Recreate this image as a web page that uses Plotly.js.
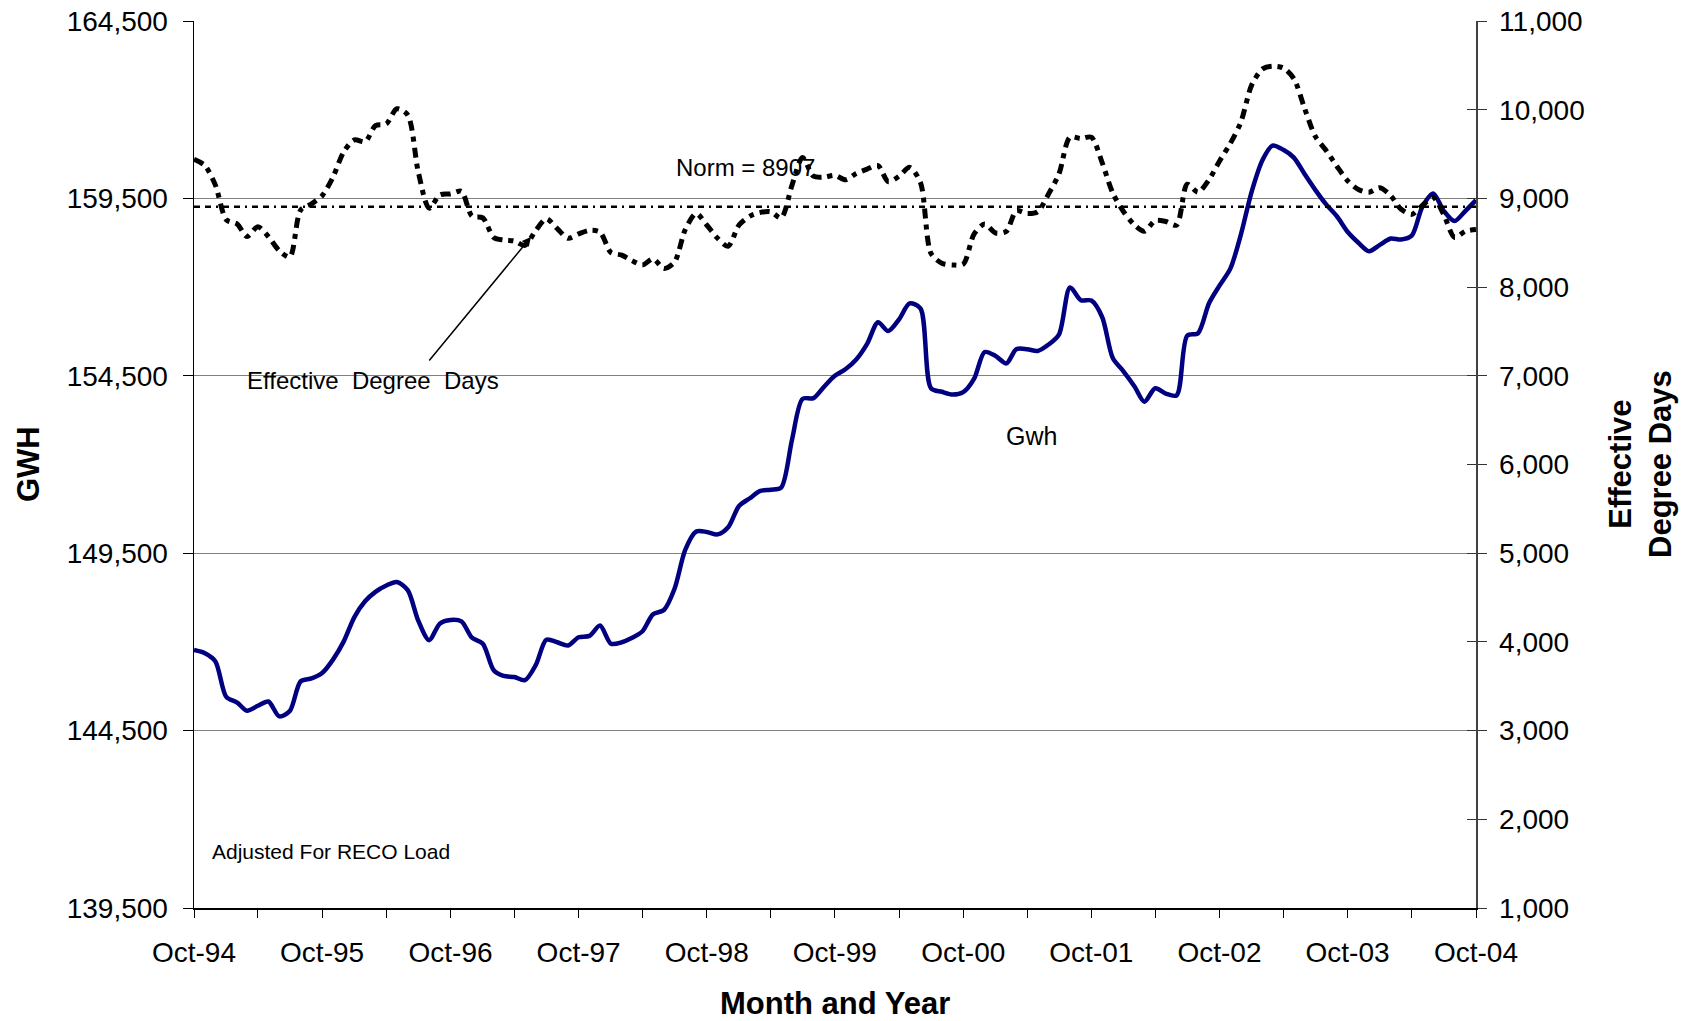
<!DOCTYPE html>
<html>
<head>
<meta charset="utf-8">
<script src="https://cdn.plot.ly/plotly-3.0.1.min.js"></script>
<style>
  html, body { margin: 0; padding: 0; background: #fff; }
  #chart { width: 1692px; height: 1021px; }
</style>
</head>
<body>
<div id="chart"></div>
<script>
// ---- Data (monthly, Oct-94 .. Oct-04) ----
const startYear = 1994, startMonth = 10, nMonths = 121;

const gwh = [
  146770, 146680, 146450, 145450, 145290, 145060, 145200, 145320, 144900, 145050,
  145890, 145970, 146120, 146500, 147000, 147700, 148150, 148410, 148590, 148690,
  148460, 147600, 147050, 147520, 147620, 147580, 147120, 146950, 146200, 146040,
  146010, 145920, 146350, 147060, 146990, 146900, 147130, 147170, 147460, 146950,
  146990, 147110, 147300, 147780, 147900, 148490, 149600, 150110, 150100, 150030,
  150230, 150830, 151050, 151250, 151290, 151350, 152700, 153850, 153870, 154200,
  154500, 154690, 154960, 155400, 156010, 155760, 156090, 156540, 156400, 154150,
  154050, 153970, 154040, 154420, 155170, 155060, 154850, 155250, 155250, 155200,
  155380, 155670, 156990, 156630, 156620, 156150, 155000, 154620, 154200, 153770,
  154150, 154000, 153950, 155630, 155700, 156540, 157040, 157520, 158480, 159700,
  160590, 160990, 160870, 160650, 160180, 159740, 159330, 158990, 158560, 158250,
  158010, 158190, 158370, 158340, 158450, 159260, 159640, 159150, 158860, 159150,
  159450
];

const edd = [
  9440, 9370, 9150, 8760, 8710, 8570, 8680, 8570, 8410, 8340,
  8870, 8940, 9030, 9240, 9520, 9660, 9640, 9820, 9840, 10010,
  9940, 9300, 8890, 9040, 9050, 9080, 8800, 8780, 8560, 8530,
  8520, 8470, 8640, 8770, 8660, 8550, 8600, 8640, 8620, 8390,
  8360, 8300, 8250, 8320, 8210, 8280, 8650, 8830, 8700, 8550,
  8460, 8700, 8800, 8840, 8850, 8780, 9150, 9460, 9250, 9240,
  9260, 9210, 9280, 9330, 9370, 9190, 9250, 9350, 9180, 8380,
  8270, 8250, 8260, 8600, 8710, 8610, 8630, 8860, 8830, 8850,
  9050, 9280, 9690, 9675, 9690, 9400, 9060, 8850, 8700, 8630,
  8750, 8740, 8700, 9160, 9070, 9210, 9420, 9620, 9860, 10280,
  10460, 10490, 10470, 10350, 10010, 9700, 9540, 9360, 9200, 9100,
  9070, 9120, 9030, 8880, 8820, 8920, 9010, 8820, 8560, 8630,
  8650
];

const NORM = 8907;

const tickLabels = ['Oct-94','Oct-95','Oct-96','Oct-97','Oct-98','Oct-99',
                    'Oct-00','Oct-01','Oct-02','Oct-03','Oct-04'];

// month categories as dates
function monthDate(i) {
  const m0 = startMonth - 1 + i;
  const y = startYear + Math.floor(m0 / 12);
  const mo = (m0 % 12) + 1;
  return y + '-' + String(mo).padStart(2, '0') + '-01';
}
const months = [];
for (let i = 0; i < nMonths; i++) months.push(monthDate(i));

// ticks every 6 months, labels every 12
const tickVals = [], tickText = [];
for (let i = 0; i < nMonths; i += 6) {
  tickVals.push(months[i]);
  tickText.push(i % 12 === 0 ? tickLabels[i / 12] : '');
}

const FONT = '"Liberation Sans", Arial, Helvetica, sans-serif';

const traces = [
  {
    x: months, y: gwh, yaxis: 'y', type: 'scatter', mode: 'lines',
    line: { color: '#000080', width: 4.5, shape: 'spline', smoothing: 0.8 },
    hoverinfo: 'skip'
  },
  {
    x: [months[0], months[nMonths - 1]], y: [NORM, NORM], yaxis: 'y2',
    type: 'scatter', mode: 'lines',
    line: { color: '#000', width: 2.5, dash: '6px,5px,6px,5px,2px,5px' },
    hoverinfo: 'skip'
  },
  {
    x: months, y: edd, yaxis: 'y2', type: 'scatter', mode: 'lines',
    line: { color: '#000', width: 5, dash: '10px,6px,5px,6px', shape: 'spline', smoothing: 0.8 },
    hoverinfo: 'skip'
  },
  { x: [], y: [], yaxis: 'y3', type: 'scatter', mode: 'lines', hoverinfo: 'skip' }
];

const P = (px) => (px - 194) / 1282;
const Q = (py) => (908 - py) / 887;

const layout = {
  width: 1692, height: 1021,
  margin: { l: 194, r: 216, t: 21, b: 113, pad: 0 },
  paper_bgcolor: '#fff', plot_bgcolor: '#fff',
  showlegend: false,
  hovermode: false,
  font: { family: FONT, color: '#000', size: 28 },
  xaxis: {
    type: 'date',
    range: [months[0], months[nMonths - 1]],
    tickmode: 'array', tickvals: tickVals, ticktext: tickText,
    ticks: 'outside', ticklen: 8, tickwidth: 1, tickcolor: '#000',
    showline: true, linecolor: '#000', linewidth: 2,
    showgrid: false, zeroline: false,
    tickfont: { size: 28, family: FONT, color: '#000' },
    ticklabelstandoff: 10
  },
  yaxis: {
    range: [139500, 164500],
    tickmode: 'linear', tick0: 139500, dtick: 5000,
    tickformat: ',d',
    ticks: 'outside', ticklen: 10, tickwidth: 1, tickcolor: '#000',
    showline: true, linecolor: '#000', linewidth: 1.5,
    showgrid: true, gridcolor: '#808080', gridwidth: 1.3,
    zeroline: false,
    tickfont: { size: 28, family: FONT, color: '#000' },
    ticklabelstandoff: 9
  },
  yaxis2: {
    overlaying: 'y', side: 'right', anchor: 'x',
    range: [1000, 11000],
    tickmode: 'linear', tick0: 1000, dtick: 1000,
    tickformat: ',d',
    ticks: 'outside', ticklen: 9, tickwidth: 1, tickcolor: '#333',
    showline: true, linecolor: '#404040', linewidth: 1.5,
    showgrid: false, zeroline: false,
    tickfont: { size: 28, family: FONT, color: '#000' },
    ticklabelstandoff: 7
  },
  yaxis3: {
    overlaying: 'y', side: 'right', anchor: 'x',
    range: [1000, 11000],
    tickmode: 'linear', tick0: 1000, dtick: 1000,
    ticks: 'inside', ticklen: 9, tickwidth: 1, tickcolor: '#333',
    showticklabels: false, showline: false, showgrid: false, zeroline: false
  },
  annotations: [
    { xref: 'paper', yref: 'paper', x: P(674), y: Q(167), xanchor: 'left', yanchor: 'middle',
      text: 'Norm = 8907', showarrow: false, font: { size: 24, family: FONT, color: '#000' } },
    { xref: 'paper', yref: 'paper', x: P(245), y: Q(380), xanchor: 'left', yanchor: 'middle',
      text: 'Effective\u00a0 Degree\u00a0 Days', showarrow: false, font: { size: 24, family: FONT, color: '#000' } },
    { xref: 'paper', yref: 'paper', x: P(531), y: Q(237), text: '',
      showarrow: true, arrowhead: 2, arrowsize: 1.2, arrowwidth: 1.5, arrowcolor: '#000',
      ax: -103, ay: 125, standoff: 0 },
    { xref: 'paper', yref: 'paper', x: P(1031), y: Q(436), xanchor: 'center', yanchor: 'middle',
      text: 'Gwh', showarrow: false, font: { size: 25, family: FONT, color: '#000' } },
    { xref: 'paper', yref: 'paper', x: P(210), y: Q(851), xanchor: 'left', yanchor: 'middle',
      text: 'Adjusted For RECO Load', showarrow: false, font: { size: 21, family: FONT, color: '#000' } },
    { xref: 'paper', yref: 'paper', x: P(29), y: Q(464), xanchor: 'center', yanchor: 'middle',
      text: '<b>GWH</b>', textangle: -90, showarrow: false, font: { size: 31, family: FONT, color: '#000' } },
    { xref: 'paper', yref: 'paper', x: P(1641), y: Q(464), xanchor: 'center', yanchor: 'middle',
      text: '<b>Effective<br>Degree Days</b>', textangle: -90, showarrow: false,
      font: { size: 31, family: FONT, color: '#000' } },
    { xref: 'paper', yref: 'paper', x: P(835), y: Q(1003), xanchor: 'center', yanchor: 'middle',
      text: '<b>Month and Year</b>', showarrow: false, font: { size: 31, family: FONT, color: '#000' } }
  ]
};

Plotly.newPlot('chart', traces, layout, { displayModeBar: false, staticPlot: true });
</script>
</body>
</html>
